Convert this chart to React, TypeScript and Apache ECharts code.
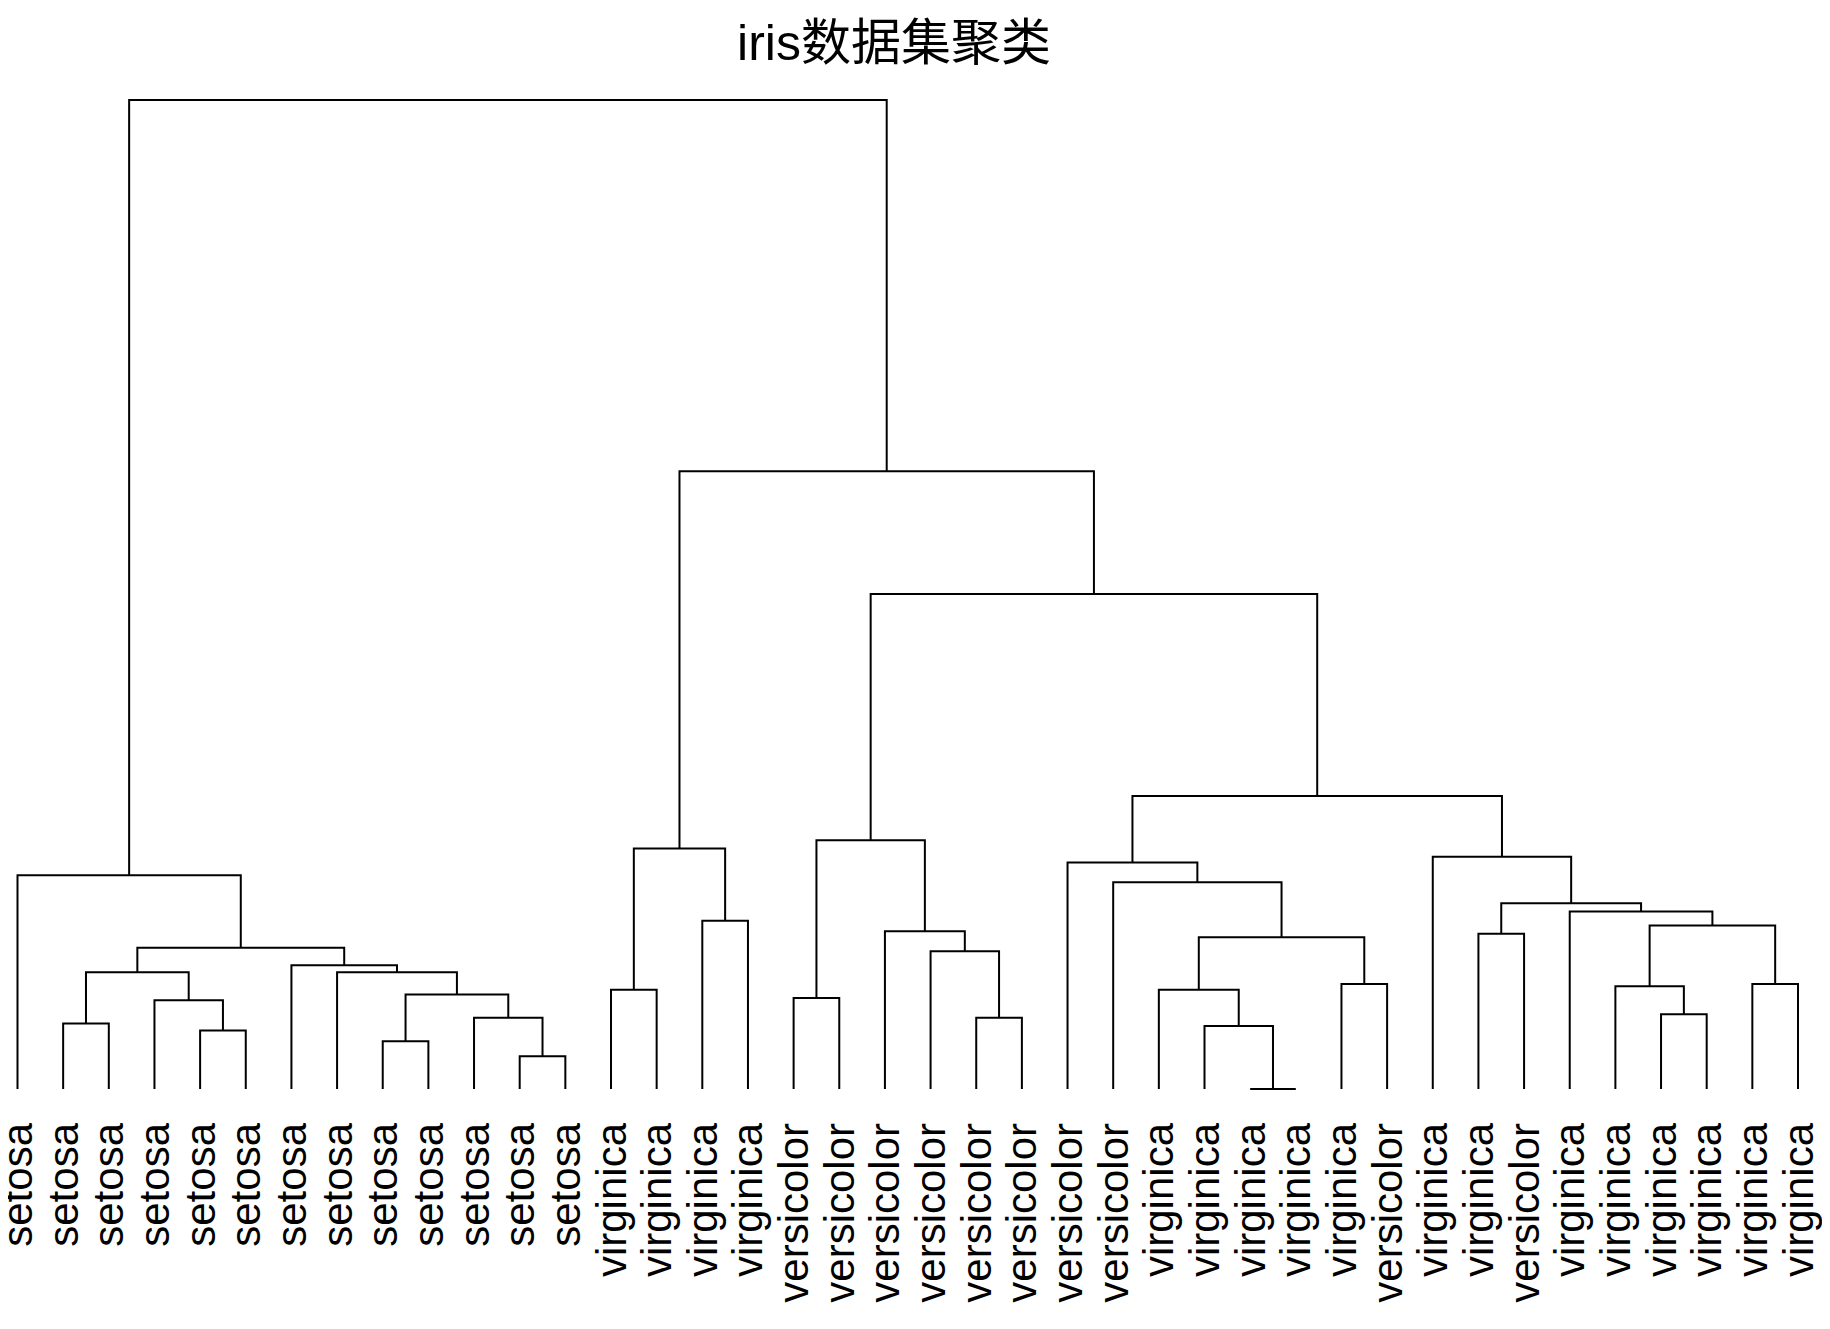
import React, { useEffect, useRef } from "react";
import * as echarts from "echarts";

// leaf labels in dendrogram order
const leafLabels = [
  ...Array(13).fill("setosa"),
  ...Array(4).fill("virginica"),
  ...Array(6).fill("versicolor"),
  ...Array(2).fill("versicolor"),
  ...Array(5).fill("virginica"),
  "versicolor",
  "virginica",
  "virginica",
  "versicolor",
  ...Array(6).fill("virginica"),
];

// hclust-style merges: negative = leaf (1-based position), positive = earlier merge (1-based)
const mergeLeft = [-2, -5, -4, 1, -9, -12, -11, 5, -8, -7, 4, -1, -14, -16, 13, -18, -22, -21, -20, 16, -28, -27, -26, -30, 23, -25, -24, -33, -37, -36, -39, 30, -35, 28, -32, 27, 20, 15, 12];
const mergeRight = [-3, -6, 2, 3, -10, -13, 6, 7, 8, 9, 10, 11, -15, -17, 14, -19, -23, 17, 18, 19, -29, 21, 22, -31, 24, 25, 26, -34, -38, 29, -40, 31, 32, 33, 34, 35, 36, 37, 38];
const mergeHeight = [56, 50, 76, 100, 41, 28, 61, 81, 100, 106, 121, 183, 85, 144, 206, 78, 61, 118, 135, 213, 0, 54, 85, 90, 130, 177, 194, 133, 64, 88, 90, 140, 152, 159, 199, 251, 424, 529, 847];

const App = () => {
  const chartRef = useRef<HTMLDivElement>(null);

  useEffect(() => {
    if (!chartRef.current) return;
    const chart = echarts.init(chartRef.current, null, { renderer: "svg" });

    const nodeX: number[] = [];
    const pos = (id: number) => (id < 0 ? -id - 1 : nodeX[id - 1]);
    const hgt = (id: number) => (id < 0 ? 0 : mergeHeight[id - 1]);
    const segs = mergeLeft.map((a, i) => {
      const b = mergeRight[i];
      const xa = pos(a);
      const xb = pos(b);
      nodeX[i] = (xa + xb) / 2;
      return [xa, hgt(a), xb, hgt(b), mergeHeight[i]];
    });

    chart.setOption({
      animation: false,
      graphic: [
        {
          type: "text",
          x: 886,
          y: 35,
          style: {
            text: "iris数据集聚类",
            align: "center",
            verticalAlign: "middle",
            font: '50px "Liberation Sans", "Noto Sans CJK SC"',
            fill: "#000",
          },
        },
      ],
      grid: {
        left: 9.5,
        right: 24,
        top: 92,
        bottom: 232,
        containLabel: false,
        outerBoundsMode: "none",
      },
      xAxis: [
        { type: "value", min: 0, max: leafLabels.length - 1, show: false },
        {
          type: "category",
          position: "bottom",
          data: leafLabels,
          boundaryGap: false,
          axisLine: { show: false },
          axisTick: { show: false },
          axisLabel: {
            rotate: 90,
            interval: 0,
            margin: 34,
            fontSize: 42,
            color: "#000",
            fontFamily: "Liberation Sans",
          },
        },
      ],
      yAxis: { type: "value", min: 0, max: 847, show: false },
      series: [
        {
          type: "custom",
          xAxisIndex: 0,
          data: segs,
          encode: { x: [0, 2], y: [1, 3, 4] },
          renderItem: (_params: any, api: any) => {
            const p1 = api.coord([api.value(0), api.value(1)]);
            const p2 = api.coord([api.value(0), api.value(4)]);
            const p3 = api.coord([api.value(2), api.value(4)]);
            const p4 = api.coord([api.value(2), api.value(3)]);
            return {
              type: "polyline",
              shape: { points: [p1, p2, p3, p4] },
              style: { stroke: "#000", lineWidth: 2, fill: "none" },
            };
          },
        },
      ],
    });

    return () => {
      chart.dispose();
    };
  }, []);

  return <div ref={chartRef} style={{ width: "1814px", height: "1313px" }}></div>;
};

export default App;
